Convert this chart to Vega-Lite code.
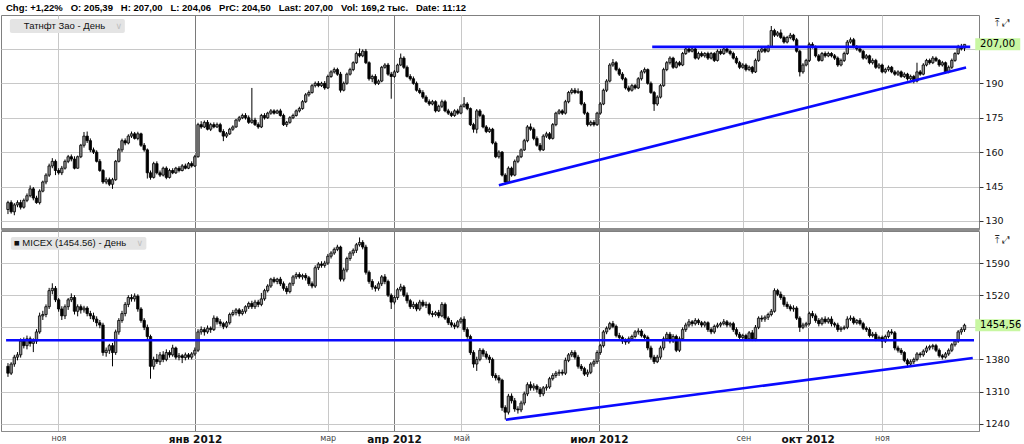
{
 "$schema": "https://vega.github.io/schema/vega-lite/v6.json",
 "padding": {"top": 2, "left": 0, "right": 0, "bottom": 0},
 "background": "white",
 "spacing": 0,
 "config": {
  "view": {"stroke": "#808080", "strokeWidth": 1},
  "font": "DejaVu Sans",
  "axis": {"labelFont": "DejaVu Sans", "gridOpacity": 1}
 },
 "datasets": {
  "tags": [
   {"panel": "top", "name": "Татнфт Зао - День", "last": 207.0, "lastText": "207,00", "chev": "∨", "icons": "⤒ ⤢"},
   {"panel": "bottom", "name": "■ MICEX (1454.56) - День", "last": 1454.56, "lastText": "1454,56", "chev": "∨", "icons": "⤒ ⤢"}
  ],
  "trend": [
   {"panel": "top", "t1": 155, "p1": 145.6, "t2": 302.5, "p2": 196.9},
   {"panel": "top", "t1": 203.4, "p1": 205.9, "t2": 303.8, "p2": 205.9},
   {"panel": "bottom", "t1": -0.6, "p1": 1421.9, "t2": 305, "p2": 1421.9},
   {"panel": "bottom", "t1": 157.2, "p1": 1248.7, "t2": 304.6, "p2": 1383.2}
  ],
  "d": [
{"t":0,"o":135,"h":138.8,"l":133,"c":138,"mo":1365,"mh":1372,"ml":1342,"mc":1350},
{"t":1,"o":138,"h":139,"l":133.2,"c":134,"mo":1350,"mh":1374,"ml":1346,"mc":1370},
{"t":2,"o":134,"h":137.8,"l":132.5,"c":137,"mo":1370,"mh":1390,"ml":1364,"mc":1385},
{"t":3,"o":137,"h":139,"l":136,"c":138,"mo":1385,"mh":1396,"ml":1378,"mc":1390},
{"t":4,"o":138,"h":139.2,"l":135,"c":136,"mo":1390,"mh":1426,"ml":1384,"mc":1420},
{"t":5,"o":136,"h":139.8,"l":135.4,"c":139,"mo":1420,"mh":1428,"ml":1404,"mc":1410},
{"t":6,"o":139,"h":142,"l":138.2,"c":141,"mo":1410,"mh":1432,"ml":1402,"mc":1425},
{"t":7,"o":141,"h":145.5,"l":140.3,"c":144,"mo":1425,"mh":1430,"ml":1408,"mc":1415},
{"t":8,"o":144,"h":144.8,"l":139,"c":140,"mo":1415,"mh":1426,"ml":1396,"mc":1420},
{"t":9,"o":140,"h":141,"l":137.5,"c":138,"mo":1420,"mh":1446,"ml":1414,"mc":1440},
{"t":10,"o":138,"h":143.8,"l":137.2,"c":143,"mo":1440,"mh":1482,"ml":1436,"mc":1475},
{"t":11,"o":143,"h":147.6,"l":142.5,"c":147,"mo":1475,"mh":1486,"ml":1466,"mc":1478},
{"t":12,"o":147,"h":150.8,"l":146,"c":150,"mo":1478,"mh":1500,"ml":1472,"mc":1495},
{"t":13,"o":150,"h":155,"l":149.2,"c":154,"mo":1495,"mh":1536,"ml":1490,"mc":1530},
{"t":14,"o":154,"h":157.4,"l":153,"c":156,"mo":1530,"mh":1546,"ml":1522,"mc":1535},
{"t":15,"o":156,"h":156.8,"l":150,"c":152,"mo":1535,"mh":1540,"ml":1505,"mc":1510},
{"t":16,"o":152,"h":153,"l":150.2,"c":151,"mo":1510,"mh":1514,"ml":1484,"mc":1490},
{"t":17,"o":151,"h":154,"l":150,"c":153,"mo":1490,"mh":1496,"ml":1466,"mc":1475},
{"t":18,"o":153,"h":156.8,"l":152.4,"c":156,"mo":1475,"mh":1500,"ml":1468,"mc":1495},
{"t":19,"o":156,"h":158.8,"l":155.2,"c":158,"mo":1495,"mh":1514,"ml":1488,"mc":1510},
{"t":20,"o":158,"h":159,"l":156,"c":157,"mo":1510,"mh":1524,"ml":1505,"mc":1515},
{"t":21,"o":157,"h":158.2,"l":152.5,"c":153,"mo":1515,"mh":1520,"ml":1478,"mc":1485},
{"t":22,"o":153,"h":158.5,"l":152.8,"c":158,"mo":1485,"mh":1500,"ml":1474,"mc":1495},
{"t":23,"o":158,"h":163.6,"l":157.4,"c":163,"mo":1495,"mh":1500,"ml":1480,"mc":1488},
{"t":24,"o":163,"h":168.8,"l":162,"c":167,"mo":1488,"mh":1497,"ml":1482,"mc":1492},
{"t":25,"o":167,"h":169,"l":164,"c":165,"mo":1492,"mh":1496,"ml":1474,"mc":1480},
{"t":26,"o":165,"h":166,"l":160,"c":161,"mo":1480,"mh":1486,"ml":1468,"mc":1475},
{"t":27,"o":161,"h":162,"l":159.2,"c":160,"mo":1475,"mh":1482,"ml":1462,"mc":1468},
{"t":28,"o":160,"h":160.8,"l":155.5,"c":156,"mo":1468,"mh":1474,"ml":1452,"mc":1460},
{"t":29,"o":156,"h":157,"l":151.4,"c":152,"mo":1460,"mh":1466,"ml":1448,"mc":1455},
{"t":30,"o":152,"h":152.6,"l":146.2,"c":147,"mo":1455,"mh":1460,"ml":1388,"mc":1395},
{"t":31,"o":147,"h":149,"l":146,"c":148,"mo":1395,"mh":1406,"ml":1386,"mc":1400},
{"t":32,"o":148,"h":148.9,"l":145.2,"c":146,"mo":1400,"mh":1414,"ml":1392,"mc":1410},
{"t":33,"o":146,"h":148.8,"l":144,"c":148,"mo":1410,"mh":1416,"ml":1365,"mc":1395},
{"t":34,"o":148,"h":156.6,"l":147.5,"c":156,"mo":1395,"mh":1445,"ml":1390,"mc":1440},
{"t":35,"o":156,"h":161.8,"l":155.5,"c":161,"mo":1440,"mh":1470,"ml":1434,"mc":1465},
{"t":36,"o":161,"h":165.9,"l":160,"c":165,"mo":1465,"mh":1486,"ml":1460,"mc":1480},
{"t":37,"o":165,"h":166,"l":163,"c":164,"mo":1480,"mh":1505,"ml":1474,"mc":1500},
{"t":38,"o":164,"h":167.8,"l":163.4,"c":167,"mo":1500,"mh":1520,"ml":1494,"mc":1515},
{"t":39,"o":167,"h":169,"l":166.2,"c":168,"mo":1515,"mh":1522,"ml":1506,"mc":1512},
{"t":40,"o":168,"h":168.8,"l":165.5,"c":166,"mo":1512,"mh":1524,"ml":1506,"mc":1518},
{"t":41,"o":166,"h":168.9,"l":165.2,"c":168,"mo":1518,"mh":1522,"ml":1484,"mc":1490},
{"t":42,"o":168,"h":168.5,"l":162.3,"c":163,"mo":1490,"mh":1494,"ml":1460,"mc":1465},
{"t":43,"o":163,"h":164,"l":160.2,"c":161,"mo":1465,"mh":1470,"ml":1444,"mc":1450},
{"t":44,"o":161,"h":161.6,"l":148.5,"c":151,"mo":1450,"mh":1456,"ml":1424,"mc":1430},
{"t":45,"o":151,"h":152,"l":148,"c":149,"mo":1430,"mh":1434,"ml":1338,"mc":1365},
{"t":46,"o":149,"h":155.8,"l":148.5,"c":155,"mo":1365,"mh":1386,"ml":1358,"mc":1380},
{"t":47,"o":155,"h":156,"l":150.3,"c":151,"mo":1380,"mh":1392,"ml":1370,"mc":1375},
{"t":48,"o":151,"h":152,"l":149.2,"c":150,"mo":1375,"mh":1396,"ml":1368,"mc":1390},
{"t":49,"o":150,"h":153.7,"l":149.4,"c":153,"mo":1390,"mh":1398,"ml":1374,"mc":1380},
{"t":50,"o":153,"h":153.8,"l":148.2,"c":149,"mo":1380,"mh":1402,"ml":1376,"mc":1395},
{"t":51,"o":149,"h":152.8,"l":148.5,"c":152,"mo":1395,"mh":1400,"ml":1384,"mc":1390},
{"t":52,"o":152,"h":153,"l":150.4,"c":151,"mo":1390,"mh":1412,"ml":1386,"mc":1405},
{"t":53,"o":151,"h":153.6,"l":150.5,"c":153,"mo":1405,"mh":1408,"ml":1380,"mc":1385},
{"t":54,"o":153,"h":153.9,"l":151.2,"c":152,"mo":1385,"mh":1394,"ml":1378,"mc":1388},
{"t":55,"o":152,"h":154.8,"l":151.6,"c":154,"mo":1388,"mh":1392,"ml":1372,"mc":1384},
{"t":56,"o":154,"h":155,"l":152.5,"c":153,"mo":1384,"mh":1395,"ml":1378,"mc":1390},
{"t":57,"o":153,"h":155.7,"l":152.6,"c":155,"mo":1390,"mh":1394,"ml":1380,"mc":1385},
{"t":58,"o":155,"h":156,"l":153.3,"c":154,"mo":1385,"mh":1396,"ml":1380,"mc":1392},
{"t":59,"o":154,"h":158.8,"l":153.5,"c":158,"mo":1392,"mh":1406,"ml":1388,"mc":1400},
{"t":60,"o":158,"h":172.8,"l":157.6,"c":172,"mo":1400,"mh":1446,"ml":1396,"mc":1440},
{"t":61,"o":172,"h":173.5,"l":170.2,"c":171,"mo":1440,"mh":1452,"ml":1434,"mc":1445},
{"t":62,"o":171,"h":173.8,"l":170.5,"c":173,"mo":1445,"mh":1450,"ml":1432,"mc":1440},
{"t":63,"o":173,"h":174,"l":169.5,"c":170,"mo":1440,"mh":1454,"ml":1436,"mc":1448},
{"t":64,"o":170,"h":172.8,"l":169.2,"c":172,"mo":1448,"mh":1452,"ml":1438,"mc":1445},
{"t":65,"o":172,"h":173,"l":170.4,"c":171,"mo":1445,"mh":1476,"ml":1442,"mc":1470},
{"t":66,"o":171,"h":172.9,"l":170.5,"c":172,"mo":1470,"mh":1474,"ml":1456,"mc":1462},
{"t":67,"o":172,"h":172.8,"l":168.5,"c":169,"mo":1462,"mh":1468,"ml":1452,"mc":1458},
{"t":68,"o":169,"h":170,"l":164.8,"c":167,"mo":1458,"mh":1462,"ml":1446,"mc":1452},
{"t":69,"o":167,"h":168.8,"l":166.2,"c":168,"mo":1452,"mh":1464,"ml":1448,"mc":1460},
{"t":70,"o":168,"h":170.6,"l":167.5,"c":170,"mo":1460,"mh":1482,"ml":1456,"mc":1478},
{"t":71,"o":170,"h":171.7,"l":169.3,"c":171,"mo":1478,"mh":1488,"ml":1474,"mc":1482},
{"t":72,"o":171,"h":174.5,"l":170.6,"c":174,"mo":1482,"mh":1492,"ml":1476,"mc":1488},
{"t":73,"o":174,"h":175.8,"l":173.2,"c":175,"mo":1488,"mh":1492,"ml":1474,"mc":1480},
{"t":74,"o":175,"h":176.8,"l":174.4,"c":176,"mo":1480,"mh":1490,"ml":1476,"mc":1485},
{"t":75,"o":176,"h":177,"l":174.2,"c":175,"mo":1485,"mh":1498,"ml":1480,"mc":1495},
{"t":76,"o":175,"h":176,"l":172.3,"c":173,"mo":1495,"mh":1506,"ml":1490,"mc":1502},
{"t":77,"o":173,"h":188,"l":172.4,"c":174,"mo":1502,"mh":1508,"ml":1490,"mc":1495},
{"t":78,"o":174,"h":175,"l":171.4,"c":172,"mo":1495,"mh":1510,"ml":1490,"mc":1505},
{"t":79,"o":172,"h":173,"l":170.2,"c":171,"mo":1505,"mh":1510,"ml":1494,"mc":1500},
{"t":80,"o":171,"h":176.7,"l":170.5,"c":176,"mo":1500,"mh":1525,"ml":1496,"mc":1512},
{"t":81,"o":176,"h":177,"l":174.2,"c":175,"mo":1512,"mh":1534,"ml":1508,"mc":1530},
{"t":82,"o":175,"h":177.6,"l":174.5,"c":177,"mo":1530,"mh":1544,"ml":1526,"mc":1540},
{"t":83,"o":177,"h":178.8,"l":176.3,"c":178,"mo":1540,"mh":1558,"ml":1536,"mc":1555},
{"t":84,"o":178,"h":178.7,"l":176.4,"c":177,"mo":1555,"mh":1560,"ml":1546,"mc":1550},
{"t":85,"o":177,"h":178.6,"l":176.8,"c":178,"mo":1550,"mh":1558,"ml":1544,"mc":1555},
{"t":86,"o":178,"h":178.9,"l":175.5,"c":176,"mo":1555,"mh":1560,"ml":1540,"mc":1545},
{"t":87,"o":176,"h":176.8,"l":171.4,"c":172,"mo":1545,"mh":1550,"ml":1530,"mc":1535},
{"t":88,"o":172,"h":173.6,"l":171,"c":173,"mo":1535,"mh":1540,"ml":1522,"mc":1528},
{"t":89,"o":173,"h":175.7,"l":172.4,"c":175,"mo":1528,"mh":1548,"ml":1524,"mc":1545},
{"t":90,"o":175,"h":176.8,"l":174.4,"c":176,"mo":1545,"mh":1564,"ml":1540,"mc":1560},
{"t":91,"o":176,"h":178.6,"l":175.5,"c":178,"mo":1560,"mh":1570,"ml":1555,"mc":1565},
{"t":92,"o":178,"h":179.8,"l":177.3,"c":179,"mo":1565,"mh":1570,"ml":1556,"mc":1560},
{"t":93,"o":179,"h":182.7,"l":178.5,"c":182,"mo":1560,"mh":1567,"ml":1554,"mc":1563},
{"t":94,"o":182,"h":185.8,"l":181.4,"c":185,"mo":1563,"mh":1568,"ml":1552,"mc":1558},
{"t":95,"o":185,"h":186.9,"l":184.2,"c":186,"mo":1558,"mh":1562,"ml":1540,"mc":1545},
{"t":96,"o":186,"h":189.7,"l":185.5,"c":189,"mo":1545,"mh":1550,"ml":1535,"mc":1540},
{"t":97,"o":189,"h":190.8,"l":188.2,"c":190,"mo":1540,"mh":1585,"ml":1536,"mc":1580},
{"t":98,"o":190,"h":191,"l":188.3,"c":189,"mo":1580,"mh":1592,"ml":1575,"mc":1588},
{"t":99,"o":189,"h":190.7,"l":188.4,"c":190,"mo":1588,"mh":1594,"ml":1580,"mc":1585},
{"t":100,"o":190,"h":191,"l":187.2,"c":188,"mo":1585,"mh":1595,"ml":1580,"mc":1590},
{"t":101,"o":188,"h":193.8,"l":187.5,"c":193,"mo":1590,"mh":1610,"ml":1586,"mc":1605},
{"t":102,"o":193,"h":195.7,"l":192.4,"c":195,"mo":1605,"mh":1616,"ml":1600,"mc":1612},
{"t":103,"o":195,"h":196.9,"l":194.3,"c":196,"mo":1612,"mh":1624,"ml":1608,"mc":1620},
{"t":104,"o":196,"h":196.8,"l":193.3,"c":194,"mo":1620,"mh":1630,"ml":1616,"mc":1625},
{"t":105,"o":194,"h":195,"l":186,"c":187,"mo":1625,"mh":1628,"ml":1550,"mc":1555},
{"t":106,"o":187,"h":190.8,"l":186.5,"c":190,"mo":1555,"mh":1580,"ml":1550,"mc":1575},
{"t":107,"o":190,"h":194.7,"l":189.4,"c":194,"mo":1575,"mh":1604,"ml":1570,"mc":1600},
{"t":108,"o":194,"h":196.8,"l":193.4,"c":196,"mo":1600,"mh":1616,"ml":1595,"mc":1612},
{"t":109,"o":196,"h":199.6,"l":195.3,"c":199,"mo":1612,"mh":1622,"ml":1606,"mc":1618},
{"t":110,"o":199,"h":203.8,"l":198.5,"c":203,"mo":1618,"mh":1634,"ml":1612,"mc":1630},
{"t":111,"o":203,"h":205.2,"l":201.3,"c":202,"mo":1630,"mh":1646,"ml":1626,"mc":1635},
{"t":112,"o":202,"h":204.8,"l":201.4,"c":204,"mo":1635,"mh":1640,"ml":1620,"mc":1625},
{"t":113,"o":204,"h":205,"l":198.4,"c":199,"mo":1625,"mh":1630,"ml":1565,"mc":1570},
{"t":114,"o":199,"h":199.6,"l":191.2,"c":192,"mo":1570,"mh":1574,"ml":1545,"mc":1550},
{"t":115,"o":192,"h":193.8,"l":190.5,"c":193,"mo":1550,"mh":1555,"ml":1532,"mc":1538},
{"t":116,"o":193,"h":194,"l":189.2,"c":190,"mo":1538,"mh":1542,"ml":1528,"mc":1535},
{"t":117,"o":190,"h":191.7,"l":189.3,"c":191,"mo":1535,"mh":1550,"ml":1530,"mc":1545},
{"t":118,"o":191,"h":197.6,"l":190.5,"c":197,"mo":1545,"mh":1564,"ml":1540,"mc":1560},
{"t":119,"o":197,"h":198.8,"l":196.4,"c":198,"mo":1560,"mh":1566,"ml":1544,"mc":1550},
{"t":120,"o":198,"h":198.9,"l":193.3,"c":194,"mo":1550,"mh":1554,"ml":1516,"mc":1520},
{"t":121,"o":194,"h":195,"l":183.3,"c":193,"mo":1520,"mh":1524,"ml":1490,"mc":1505},
{"t":122,"o":193,"h":195.8,"l":192.4,"c":195,"mo":1505,"mh":1520,"ml":1500,"mc":1515},
{"t":123,"o":195,"h":198.6,"l":194.5,"c":198,"mo":1515,"mh":1536,"ml":1510,"mc":1532},
{"t":124,"o":198,"h":203,"l":197.5,"c":201,"mo":1532,"mh":1545,"ml":1528,"mc":1538},
{"t":125,"o":201,"h":201.8,"l":196.3,"c":197,"mo":1538,"mh":1542,"ml":1516,"mc":1520},
{"t":126,"o":197,"h":197.8,"l":192.5,"c":193,"mo":1520,"mh":1526,"ml":1502,"mc":1508},
{"t":127,"o":193,"h":194,"l":191.2,"c":192,"mo":1508,"mh":1512,"ml":1490,"mc":1495},
{"t":128,"o":192,"h":193,"l":189.4,"c":190,"mo":1495,"mh":1506,"ml":1490,"mc":1500},
{"t":129,"o":190,"h":190.8,"l":186.4,"c":187,"mo":1500,"mh":1504,"ml":1485,"mc":1490},
{"t":130,"o":187,"h":188,"l":185.3,"c":186,"mo":1490,"mh":1510,"ml":1486,"mc":1505},
{"t":131,"o":186,"h":187,"l":183.2,"c":184,"mo":1505,"mh":1510,"ml":1494,"mc":1498},
{"t":132,"o":184,"h":184.8,"l":181.5,"c":182,"mo":1498,"mh":1506,"ml":1492,"mc":1500},
{"t":133,"o":182,"h":183,"l":180.2,"c":181,"mo":1500,"mh":1504,"ml":1476,"mc":1480},
{"t":134,"o":181,"h":182.8,"l":180.4,"c":182,"mo":1480,"mh":1486,"ml":1472,"mc":1478},
{"t":135,"o":182,"h":182.6,"l":177.3,"c":178,"mo":1478,"mh":1486,"ml":1474,"mc":1482},
{"t":136,"o":178,"h":180.7,"l":177.5,"c":180,"mo":1482,"mh":1488,"ml":1470,"mc":1475},
{"t":137,"o":180,"h":182.9,"l":179.2,"c":182,"mo":1475,"mh":1505,"ml":1472,"mc":1500},
{"t":138,"o":182,"h":182.8,"l":177.4,"c":178,"mo":1500,"mh":1504,"ml":1466,"mc":1470},
{"t":139,"o":178,"h":178.9,"l":176.2,"c":177,"mo":1470,"mh":1474,"ml":1455,"mc":1460},
{"t":140,"o":177,"h":177.8,"l":175.3,"c":176,"mo":1460,"mh":1466,"ml":1450,"mc":1455},
{"t":141,"o":176,"h":178.7,"l":175.4,"c":178,"mo":1455,"mh":1460,"ml":1446,"mc":1452},
{"t":142,"o":178,"h":178.9,"l":176.3,"c":177,"mo":1452,"mh":1466,"ml":1448,"mc":1462},
{"t":143,"o":177,"h":180.8,"l":176.5,"c":180,"mo":1462,"mh":1472,"ml":1458,"mc":1468},
{"t":144,"o":180,"h":184,"l":179.4,"c":181,"mo":1468,"mh":1474,"ml":1440,"mc":1445},
{"t":145,"o":181,"h":181.8,"l":178.3,"c":179,"mo":1445,"mh":1450,"ml":1425,"mc":1430},
{"t":146,"o":179,"h":179.5,"l":171.4,"c":172,"mo":1430,"mh":1434,"ml":1390,"mc":1395},
{"t":147,"o":172,"h":172.8,"l":168.5,"c":170,"mo":1395,"mh":1400,"ml":1362,"mc":1370},
{"t":148,"o":170,"h":178.8,"l":168.2,"c":178,"mo":1370,"mh":1386,"ml":1355,"mc":1380},
{"t":149,"o":178,"h":178.8,"l":175.2,"c":176,"mo":1380,"mh":1405,"ml":1376,"mc":1400},
{"t":150,"o":176,"h":176.7,"l":170.4,"c":171,"mo":1400,"mh":1404,"ml":1386,"mc":1392},
{"t":151,"o":171,"h":171.8,"l":168.3,"c":169,"mo":1392,"mh":1398,"ml":1380,"mc":1385},
{"t":152,"o":169,"h":170.8,"l":168.4,"c":170,"mo":1385,"mh":1390,"ml":1372,"mc":1380},
{"t":153,"o":170,"h":170.6,"l":163.4,"c":164,"mo":1380,"mh":1384,"ml":1340,"mc":1345},
{"t":154,"o":164,"h":164.7,"l":157.4,"c":158,"mo":1345,"mh":1350,"ml":1334,"mc":1340},
{"t":155,"o":158,"h":160.8,"l":157.2,"c":160,"mo":1340,"mh":1346,"ml":1328,"mc":1335},
{"t":156,"o":160,"h":160.5,"l":149.4,"c":150,"mo":1335,"mh":1338,"ml":1268,"mc":1275},
{"t":157,"o":150,"h":150.8,"l":145.8,"c":147,"mo":1275,"mh":1280,"ml":1249,"mc":1265},
{"t":158,"o":147,"h":153.8,"l":146.5,"c":153,"mo":1265,"mh":1305,"ml":1260,"mc":1300},
{"t":159,"o":153,"h":153.7,"l":149.3,"c":150,"mo":1300,"mh":1306,"ml":1284,"mc":1290},
{"t":160,"o":150,"h":156.8,"l":149.5,"c":156,"mo":1290,"mh":1296,"ml":1266,"mc":1272},
{"t":161,"o":156,"h":158.7,"l":155.2,"c":158,"mo":1272,"mh":1278,"ml":1262,"mc":1270},
{"t":162,"o":158,"h":161.6,"l":157.4,"c":161,"mo":1270,"mh":1290,"ml":1265,"mc":1285},
{"t":163,"o":161,"h":165.8,"l":160.5,"c":165,"mo":1285,"mh":1310,"ml":1280,"mc":1305},
{"t":164,"o":165,"h":171.8,"l":164.3,"c":171,"mo":1305,"mh":1330,"ml":1300,"mc":1325},
{"t":165,"o":171,"h":172.5,"l":169.3,"c":170,"mo":1325,"mh":1332,"ml":1312,"mc":1318},
{"t":166,"o":170,"h":170.8,"l":165.2,"c":166,"mo":1318,"mh":1328,"ml":1312,"mc":1322},
{"t":167,"o":166,"h":166.9,"l":162.4,"c":163,"mo":1322,"mh":1326,"ml":1308,"mc":1315},
{"t":168,"o":163,"h":164,"l":160.3,"c":161,"mo":1315,"mh":1320,"ml":1298,"mc":1305},
{"t":169,"o":161,"h":167.8,"l":160.5,"c":167,"mo":1305,"mh":1322,"ml":1300,"mc":1318},
{"t":170,"o":167,"h":168.9,"l":166.2,"c":168,"mo":1318,"mh":1326,"ml":1312,"mc":1320},
{"t":171,"o":168,"h":168.8,"l":165.4,"c":166,"mo":1320,"mh":1342,"ml":1316,"mc":1338},
{"t":172,"o":166,"h":172.7,"l":165.5,"c":172,"mo":1338,"mh":1350,"ml":1334,"mc":1345},
{"t":173,"o":172,"h":177.6,"l":171.3,"c":177,"mo":1345,"mh":1355,"ml":1340,"mc":1350},
{"t":174,"o":177,"h":178.8,"l":176.4,"c":178,"mo":1350,"mh":1358,"ml":1344,"mc":1352},
{"t":175,"o":178,"h":178.7,"l":176.2,"c":177,"mo":1352,"mh":1358,"ml":1345,"mc":1350},
{"t":176,"o":177,"h":182.8,"l":176.4,"c":182,"mo":1350,"mh":1384,"ml":1346,"mc":1378},
{"t":177,"o":182,"h":186.7,"l":181.3,"c":186,"mo":1378,"mh":1394,"ml":1374,"mc":1390},
{"t":178,"o":186,"h":187.9,"l":185.2,"c":187,"mo":1390,"mh":1400,"ml":1385,"mc":1395},
{"t":179,"o":187,"h":188,"l":185.3,"c":186,"mo":1395,"mh":1400,"ml":1380,"mc":1385},
{"t":180,"o":186,"h":187.8,"l":185.4,"c":186.5,"mo":1385,"mh":1390,"ml":1360,"mc":1365},
{"t":181,"o":186.5,"h":187,"l":180.4,"c":181,"mo":1365,"mh":1370,"ml":1355,"mc":1360},
{"t":182,"o":181,"h":181.8,"l":176.3,"c":177,"mo":1360,"mh":1364,"ml":1344,"mc":1348},
{"t":183,"o":177,"h":177.6,"l":171.2,"c":172,"mo":1348,"mh":1358,"ml":1342,"mc":1352},
{"t":184,"o":172,"h":173.8,"l":171.3,"c":173,"mo":1352,"mh":1374,"ml":1348,"mc":1370},
{"t":185,"o":173,"h":174,"l":171.2,"c":172,"mo":1370,"mh":1380,"ml":1364,"mc":1375},
{"t":186,"o":172,"h":177.6,"l":171.4,"c":177,"mo":1375,"mh":1400,"ml":1370,"mc":1395},
{"t":187,"o":177,"h":181.8,"l":176.3,"c":181,"mo":1395,"mh":1414,"ml":1390,"mc":1410},
{"t":188,"o":181,"h":187.7,"l":180.5,"c":187,"mo":1410,"mh":1444,"ml":1406,"mc":1440},
{"t":189,"o":187,"h":191.8,"l":186.2,"c":191,"mo":1440,"mh":1452,"ml":1435,"mc":1448},
{"t":190,"o":191,"h":198.8,"l":190.4,"c":198,"mo":1448,"mh":1462,"ml":1444,"mc":1458},
{"t":191,"o":198,"h":200.6,"l":197.2,"c":199,"mo":1458,"mh":1464,"ml":1448,"mc":1452},
{"t":192,"o":199,"h":199.7,"l":195.3,"c":196,"mo":1452,"mh":1456,"ml":1428,"mc":1432},
{"t":193,"o":196,"h":196.8,"l":193.2,"c":194,"mo":1432,"mh":1438,"ml":1422,"mc":1428},
{"t":194,"o":194,"h":194.9,"l":191.3,"c":192,"mo":1428,"mh":1432,"ml":1414,"mc":1420},
{"t":195,"o":192,"h":192.7,"l":187.3,"c":188,"mo":1420,"mh":1426,"ml":1412,"mc":1418},
{"t":196,"o":188,"h":189,"l":186.2,"c":187,"mo":1418,"mh":1430,"ml":1414,"mc":1425},
{"t":197,"o":187,"h":189.8,"l":186.4,"c":189,"mo":1425,"mh":1434,"ml":1420,"mc":1430},
{"t":198,"o":189,"h":189.7,"l":187.3,"c":188,"mo":1430,"mh":1444,"ml":1426,"mc":1440},
{"t":199,"o":188,"h":192.7,"l":187.5,"c":192,"mo":1440,"mh":1448,"ml":1434,"mc":1442},
{"t":200,"o":192,"h":195.8,"l":191.2,"c":195,"mo":1442,"mh":1446,"ml":1428,"mc":1432},
{"t":201,"o":195,"h":196.9,"l":194.3,"c":196,"mo":1432,"mh":1436,"ml":1422,"mc":1428},
{"t":202,"o":196,"h":196.5,"l":189.4,"c":190,"mo":1428,"mh":1432,"ml":1400,"mc":1405},
{"t":203,"o":190,"h":190.8,"l":185.4,"c":186,"mo":1405,"mh":1410,"ml":1380,"mc":1385},
{"t":204,"o":186,"h":186.7,"l":178,"c":181,"mo":1385,"mh":1390,"ml":1370,"mc":1375},
{"t":205,"o":181,"h":184.8,"l":180.2,"c":184,"mo":1375,"mh":1390,"ml":1372,"mc":1385},
{"t":206,"o":184,"h":189.7,"l":183.4,"c":189,"mo":1385,"mh":1410,"ml":1380,"mc":1405},
{"t":207,"o":189,"h":196.8,"l":188.5,"c":196,"mo":1405,"mh":1430,"ml":1400,"mc":1425},
{"t":208,"o":196,"h":199.7,"l":195.3,"c":199,"mo":1425,"mh":1440,"ml":1420,"mc":1435},
{"t":209,"o":199,"h":201.8,"l":198.2,"c":201,"mo":1435,"mh":1440,"ml":1415,"mc":1420},
{"t":210,"o":201,"h":201.6,"l":196.3,"c":197,"mo":1420,"mh":1435,"ml":1416,"mc":1430},
{"t":211,"o":197,"h":199.8,"l":196.5,"c":199,"mo":1430,"mh":1434,"ml":1396,"mc":1400},
{"t":212,"o":199,"h":199.8,"l":197.4,"c":198,"mo":1400,"mh":1430,"ml":1396,"mc":1425},
{"t":213,"o":198,"h":203.7,"l":197.5,"c":203,"mo":1425,"mh":1450,"ml":1420,"mc":1445},
{"t":214,"o":203,"h":205.9,"l":202.4,"c":205,"mo":1445,"mh":1460,"ml":1440,"mc":1455},
{"t":215,"o":205,"h":205.8,"l":203.3,"c":204,"mo":1455,"mh":1468,"ml":1450,"mc":1462},
{"t":216,"o":204,"h":205.7,"l":203.5,"c":205,"mo":1462,"mh":1466,"ml":1452,"mc":1458},
{"t":217,"o":205,"h":205.6,"l":200.4,"c":201,"mo":1458,"mh":1470,"ml":1454,"mc":1465},
{"t":218,"o":201,"h":203.8,"l":200.3,"c":203,"mo":1465,"mh":1469,"ml":1455,"mc":1460},
{"t":219,"o":203,"h":203.9,"l":201.4,"c":202,"mo":1460,"mh":1464,"ml":1450,"mc":1455},
{"t":220,"o":202,"h":203.6,"l":201.2,"c":203,"mo":1455,"mh":1464,"ml":1450,"mc":1460},
{"t":221,"o":203,"h":203.8,"l":200.2,"c":201,"mo":1460,"mh":1463,"ml":1440,"mc":1445},
{"t":222,"o":201,"h":203.7,"l":200.4,"c":203,"mo":1445,"mh":1450,"ml":1435,"mc":1440},
{"t":223,"o":203,"h":203.6,"l":199.3,"c":200,"mo":1440,"mh":1456,"ml":1436,"mc":1452},
{"t":224,"o":200,"h":204.8,"l":199.5,"c":204,"mo":1452,"mh":1460,"ml":1448,"mc":1455},
{"t":225,"o":204,"h":204.9,"l":202.3,"c":203,"mo":1455,"mh":1462,"ml":1450,"mc":1458},
{"t":226,"o":203,"h":206,"l":202.4,"c":205,"mo":1458,"mh":1468,"ml":1454,"mc":1462},
{"t":227,"o":205,"h":205.8,"l":203.2,"c":204,"mo":1462,"mh":1466,"ml":1450,"mc":1455},
{"t":228,"o":204,"h":204.7,"l":202.2,"c":203,"mo":1455,"mh":1462,"ml":1450,"mc":1458},
{"t":229,"o":203,"h":203.8,"l":200.4,"c":201,"mo":1458,"mh":1462,"ml":1440,"mc":1445},
{"t":230,"o":201,"h":201.9,"l":198.3,"c":199,"mo":1445,"mh":1450,"ml":1430,"mc":1435},
{"t":231,"o":199,"h":199.8,"l":196.2,"c":197,"mo":1435,"mh":1440,"ml":1424,"mc":1428},
{"t":232,"o":197,"h":198.8,"l":196.4,"c":198,"mo":1428,"mh":1436,"ml":1424,"mc":1432},
{"t":233,"o":198,"h":198.7,"l":195.2,"c":196,"mo":1432,"mh":1436,"ml":1420,"mc":1425},
{"t":234,"o":196,"h":197.8,"l":195.3,"c":197,"mo":1425,"mh":1442,"ml":1420,"mc":1438},
{"t":235,"o":197,"h":197.6,"l":194.2,"c":195,"mo":1438,"mh":1444,"ml":1420,"mc":1425},
{"t":236,"o":195,"h":200.8,"l":194.5,"c":200,"mo":1425,"mh":1455,"ml":1420,"mc":1450},
{"t":237,"o":200,"h":204.7,"l":199.4,"c":204,"mo":1450,"mh":1474,"ml":1446,"mc":1470},
{"t":238,"o":204,"h":205.8,"l":203.3,"c":205,"mo":1470,"mh":1476,"ml":1462,"mc":1468},
{"t":239,"o":205,"h":205.6,"l":203.2,"c":204,"mo":1468,"mh":1476,"ml":1462,"mc":1472},
{"t":240,"o":204,"h":206.8,"l":203.5,"c":206,"mo":1472,"mh":1482,"ml":1466,"mc":1478},
{"t":241,"o":206,"h":215,"l":205.4,"c":213,"mo":1478,"mh":1490,"ml":1474,"mc":1485},
{"t":242,"o":213,"h":213.8,"l":210.2,"c":211,"mo":1485,"mh":1535,"ml":1482,"mc":1530},
{"t":243,"o":211,"h":212.8,"l":210.3,"c":212,"mo":1530,"mh":1534,"ml":1518,"mc":1522},
{"t":244,"o":212,"h":213.5,"l":209.3,"c":210,"mo":1522,"mh":1528,"ml":1510,"mc":1515},
{"t":245,"o":210,"h":210.8,"l":207.3,"c":208,"mo":1515,"mh":1520,"ml":1495,"mc":1500},
{"t":246,"o":208,"h":210.7,"l":207.4,"c":210,"mo":1500,"mh":1506,"ml":1490,"mc":1495},
{"t":247,"o":210,"h":212,"l":209.2,"c":211,"mo":1495,"mh":1500,"ml":1485,"mc":1490},
{"t":248,"o":211,"h":211.6,"l":208.3,"c":209,"mo":1490,"mh":1498,"ml":1484,"mc":1492},
{"t":249,"o":209,"h":209.8,"l":203.4,"c":204,"mo":1492,"mh":1496,"ml":1466,"mc":1470},
{"t":250,"o":204,"h":204.6,"l":193,"c":195,"mo":1470,"mh":1474,"ml":1440,"mc":1450},
{"t":251,"o":195,"h":198.8,"l":194.2,"c":198,"mo":1450,"mh":1460,"ml":1446,"mc":1455},
{"t":252,"o":198,"h":200.7,"l":197.4,"c":200,"mo":1455,"mh":1462,"ml":1450,"mc":1458},
{"t":253,"o":200,"h":207.8,"l":199.3,"c":207,"mo":1458,"mh":1484,"ml":1454,"mc":1480},
{"t":254,"o":207,"h":207.9,"l":205.2,"c":206,"mo":1480,"mh":1486,"ml":1470,"mc":1475},
{"t":255,"o":206,"h":206.5,"l":201.3,"c":202,"mo":1475,"mh":1480,"ml":1460,"mc":1465},
{"t":256,"o":202,"h":202.8,"l":199.4,"c":200,"mo":1465,"mh":1470,"ml":1452,"mc":1458},
{"t":257,"o":200,"h":203.7,"l":199.5,"c":203,"mo":1458,"mh":1472,"ml":1454,"mc":1468},
{"t":258,"o":203,"h":203.9,"l":201.2,"c":202,"mo":1468,"mh":1474,"ml":1458,"mc":1462},
{"t":259,"o":202,"h":203.8,"l":201.4,"c":203,"mo":1462,"mh":1472,"ml":1458,"mc":1468},
{"t":260,"o":203,"h":203.6,"l":201.3,"c":202,"mo":1468,"mh":1474,"ml":1452,"mc":1458},
{"t":261,"o":202,"h":202.8,"l":200.2,"c":201,"mo":1458,"mh":1462,"ml":1450,"mc":1455},
{"t":262,"o":201,"h":201.7,"l":197.2,"c":198,"mo":1455,"mh":1460,"ml":1440,"mc":1445},
{"t":263,"o":198,"h":200.8,"l":197.4,"c":200,"mo":1445,"mh":1452,"ml":1440,"mc":1448},
{"t":264,"o":200,"h":203.8,"l":199.3,"c":203,"mo":1448,"mh":1454,"ml":1444,"mc":1450},
{"t":265,"o":203,"h":208.9,"l":202.4,"c":208,"mo":1450,"mh":1474,"ml":1446,"mc":1468},
{"t":266,"o":208,"h":210,"l":207.3,"c":209,"mo":1468,"mh":1476,"ml":1464,"mc":1470},
{"t":267,"o":209,"h":209.8,"l":205.3,"c":206,"mo":1470,"mh":1474,"ml":1456,"mc":1460},
{"t":268,"o":206,"h":206.7,"l":204.2,"c":205,"mo":1460,"mh":1468,"ml":1456,"mc":1465},
{"t":269,"o":205,"h":205.8,"l":203.3,"c":204,"mo":1465,"mh":1470,"ml":1454,"mc":1458},
{"t":270,"o":204,"h":204.6,"l":200.3,"c":201,"mo":1458,"mh":1462,"ml":1444,"mc":1448},
{"t":271,"o":201,"h":202.8,"l":200.4,"c":202,"mo":1448,"mh":1452,"ml":1440,"mc":1445},
{"t":272,"o":202,"h":202.5,"l":198.3,"c":199,"mo":1445,"mh":1450,"ml":1428,"mc":1432},
{"t":273,"o":199,"h":200.9,"l":198.2,"c":200,"mo":1432,"mh":1440,"ml":1428,"mc":1435},
{"t":274,"o":200,"h":200.7,"l":196.3,"c":197,"mo":1435,"mh":1440,"ml":1420,"mc":1425},
{"t":275,"o":197,"h":198.8,"l":196.2,"c":198,"mo":1425,"mh":1432,"ml":1420,"mc":1428},
{"t":276,"o":198,"h":198.6,"l":194.4,"c":195,"mo":1428,"mh":1432,"ml":1405,"mc":1420},
{"t":277,"o":195,"h":196.8,"l":194.3,"c":196,"mo":1420,"mh":1434,"ml":1416,"mc":1430},
{"t":278,"o":196,"h":197.8,"l":195.2,"c":197,"mo":1430,"mh":1444,"ml":1426,"mc":1440},
{"t":279,"o":197,"h":197.6,"l":194.4,"c":195,"mo":1440,"mh":1446,"ml":1434,"mc":1438},
{"t":280,"o":195,"h":195.8,"l":193.3,"c":194,"mo":1438,"mh":1442,"ml":1400,"mc":1405},
{"t":281,"o":194,"h":195.7,"l":193.2,"c":195,"mo":1405,"mh":1410,"ml":1395,"mc":1400},
{"t":282,"o":195,"h":195.6,"l":192.4,"c":193,"mo":1400,"mh":1405,"ml":1390,"mc":1395},
{"t":283,"o":193,"h":194.8,"l":192.3,"c":194,"mo":1395,"mh":1398,"ml":1374,"mc":1378},
{"t":284,"o":194,"h":194.6,"l":191.2,"c":192,"mo":1378,"mh":1382,"ml":1362,"mc":1370},
{"t":285,"o":192,"h":193.8,"l":191.4,"c":193,"mo":1370,"mh":1380,"ml":1366,"mc":1375},
{"t":286,"o":193,"h":193.7,"l":190,"c":191,"mo":1375,"mh":1384,"ml":1370,"mc":1380},
{"t":287,"o":191,"h":199,"l":190.4,"c":195,"mo":1380,"mh":1396,"ml":1376,"mc":1392},
{"t":288,"o":195,"h":195.8,"l":193.3,"c":194,"mo":1392,"mh":1396,"ml":1384,"mc":1390},
{"t":289,"o":194,"h":198.8,"l":193.5,"c":198,"mo":1390,"mh":1402,"ml":1386,"mc":1398},
{"t":290,"o":198,"h":200.7,"l":197.4,"c":200,"mo":1398,"mh":1410,"ml":1394,"mc":1405},
{"t":291,"o":200,"h":200.8,"l":198.2,"c":199,"mo":1405,"mh":1412,"ml":1400,"mc":1408},
{"t":292,"o":199,"h":201.9,"l":198.4,"c":201,"mo":1408,"mh":1414,"ml":1402,"mc":1410},
{"t":293,"o":201,"h":201.7,"l":199.3,"c":200,"mo":1410,"mh":1414,"ml":1396,"mc":1400},
{"t":294,"o":200,"h":200.6,"l":197.2,"c":198,"mo":1400,"mh":1404,"ml":1384,"mc":1388},
{"t":295,"o":198,"h":199.8,"l":197.3,"c":199,"mo":1388,"mh":1392,"ml":1380,"mc":1385},
{"t":296,"o":199,"h":199.5,"l":194.2,"c":195,"mo":1385,"mh":1396,"ml":1382,"mc":1392},
{"t":297,"o":195,"h":197.8,"l":194.4,"c":197,"mo":1392,"mh":1404,"ml":1388,"mc":1400},
{"t":298,"o":197,"h":200.8,"l":196.3,"c":200,"mo":1400,"mh":1416,"ml":1396,"mc":1412},
{"t":299,"o":200,"h":203.6,"l":199.4,"c":203,"mo":1412,"mh":1424,"ml":1408,"mc":1420},
{"t":300,"o":203,"h":206.8,"l":202.4,"c":206,"mo":1420,"mh":1444,"ml":1416,"mc":1440},
{"t":301,"o":206,"h":207.2,"l":204.3,"c":205,"mo":1440,"mh":1450,"ml":1434,"mc":1445},
{"t":302,"o":205.39,"h":207,"l":204.06,"c":207,"mo":1445,"mh":1458,"ml":1440,"mc":1454.56}
  ]
 },
 "vconcat": [
  {
   "width": 978,
   "height": 214,
   "title": {"text": "Chg: +1,22%\u00a0\u00a0\u00a0O: 205,39\u00a0\u00a0\u00a0H: 207,00\u00a0\u00a0\u00a0L: 204,06\u00a0\u00a0\u00a0PrC: 204,50\u00a0\u00a0\u00a0Last: 207,00\u00a0\u00a0\u00a0Vol: 169,2 тыс.\u00a0\u00a0\u00a0Date: 11:12", "anchor": "start", "frame": "group", "fontSize": 9.5, "font": "Liberation Sans", "fontWeight": "bold", "color": "#000", "offset": 3, "dx": 5},
   "data": {"name": "d"},
   "layer": [
    {
     "mark": {"type": "rule", "color": "#000", "strokeWidth": 1},
     "encoding": {
      "x": {"field": "t", "type": "quantitative", "title": null, "scale": {"domain": [-0.625, 305], "nice": false, "zero": false},
       "axis": {"values": [15.94, 59.06, 100.94, 121.88, 143.13, 186.56, 232.19, 252.5, 275.94], "tickCount": 40, "labels": false, "ticks": false, "domain": true, "domainColor": "#8c8c8c", "domainWidth": 3, "grid": true,
        "gridColor": {"condition": {"test": "indexof([59.06,121.88,186.56,252.5], datum.value) >= 0", "value": "#7a7a7a"}, "value": "#c8c8c8"}}},
      "y": {"field": "l", "type": "quantitative", "title": null, "scale": {"domain": [126.5, 219.8], "nice": false, "zero": false},
       "axis": {"orient": "right", "values": [130, 145, 160, 175, 190, 205], "tickCount": 20, "format": "d", "labelExpr": "datum.value == 205 ? '' : datum.label", "labelOverlap": false, "domain": false, "tickSize": 4, "tickColor": "#333", "labelPadding": 2, "labelFontSize": 9.5, "labelColor": "#111", "grid": true, "gridColor": "#c8c8c8"}},
      "y2": {"field": "h"}
     }
    },
    {
     "mark": {"type": "bar", "orient": "vertical", "width": 2.4, "stroke": "#000", "strokeWidth": 0.8},
     "encoding": {
      "x": {"field": "t", "type": "quantitative", "scale": {"domain": [-0.625, 305], "nice": false, "zero": false}},
      "y": {"field": "o", "type": "quantitative", "scale": {"domain": [126.5, 219.8], "nice": false, "zero": false}},
      "y2": {"field": "c"},
      "fill": {"condition": {"test": "datum.c >= datum.o", "value": "#8f8f8f"}, "value": "#000"}
     }
    },
    {
     "data": {"name": "trend"},
     "transform": [{"filter": "datum.panel == 'top'"}],
     "mark": {"type": "rule", "color": "#0a0aff", "strokeWidth": 2.6},
     "encoding": {
      "x": {"field": "t1", "type": "quantitative", "scale": {"domain": [-0.625, 305], "nice": false, "zero": false}},
      "x2": {"field": "t2"},
      "y": {"field": "p1", "type": "quantitative", "scale": {"domain": [126.5, 219.8], "nice": false, "zero": false}},
      "y2": {"field": "p2"}
     }
    },
    {
     "data": {"name": "tags"},
     "transform": [{"filter": "datum.panel == 'top'"}],
     "mark": {"type": "rect", "fill": "#e4e4e4", "cornerRadius": 2},
     "encoding": {
      "x": {"datum": 0.6, "type": "quantitative", "scale": {"domain": [-0.625, 305], "nice": false, "zero": false}},
      "x2": {"datum": 36.9},
      "y": {"datum": 218.1, "type": "quantitative", "scale": {"domain": [126.5, 219.8], "nice": false, "zero": false}},
      "y2": {"datum": 212.0}
     }
    },
    {
     "data": {"name": "tags"},
     "transform": [{"filter": "datum.panel == 'top'"}],
     "mark": {"type": "text", "align": "left", "baseline": "middle", "fontSize": 9.5, "color": "#111", "font": "Liberation Sans"},
     "encoding": {
      "x": {"datum": 5, "type": "quantitative", "scale": {"domain": [-0.625, 305], "nice": false, "zero": false}},
      "y": {"datum": 215.1, "type": "quantitative", "scale": {"domain": [126.5, 219.8], "nice": false, "zero": false}},
      "text": {"field": "name"}
     }
    },
    {
     "data": {"name": "tags"},
     "transform": [{"filter": "datum.panel == 'top'"}],
     "mark": {"type": "text", "align": "center", "baseline": "middle", "fontSize": 9, "color": "#c0c0c0", "font": "DejaVu Sans"},
     "encoding": {
      "x": {"datum": 35.0, "type": "quantitative", "scale": {"domain": [-0.625, 305], "nice": false, "zero": false}},
      "y": {"datum": 215.1, "type": "quantitative", "scale": {"domain": [126.5, 219.8], "nice": false, "zero": false}},
      "text": {"field": "chev"}
     }
    },
    {
     "data": {"name": "tags"},
     "transform": [{"filter": "datum.panel == 'top'"}],
     "mark": {"type": "text", "align": "center", "baseline": "middle", "fontSize": 10, "color": "#222", "font": "DejaVu Sans"},
     "encoding": {
      "x": {"datum": 314, "type": "quantitative", "scale": {"domain": [-0.625, 305], "nice": false, "zero": false}},
      "y": {"datum": 216.4, "type": "quantitative", "scale": {"domain": [126.5, 219.8], "nice": false, "zero": false}},
      "text": {"field": "icons"}
     }
    },
    {
     "data": {"name": "tags"},
     "transform": [{"filter": "datum.panel == 'top'"}],
     "mark": {"type": "tick", "orient": "horizontal", "size": 45, "thickness": 12, "color": "#c8f7a2", "opacity": 1},
     "encoding": {
      "x": {"datum": 312.5, "type": "quantitative", "scale": {"domain": [-0.625, 305], "nice": false, "zero": false}},
      "y": {"field": "last", "type": "quantitative", "scale": {"domain": [126.5, 219.8], "nice": false, "zero": false}}
     }
    },
    {
     "data": {"name": "tags"},
     "transform": [{"filter": "datum.panel == 'top'"}],
     "mark": {"type": "text", "align": "left", "baseline": "middle", "fontSize": 10, "color": "#000", "font": "DejaVu Sans"},
     "encoding": {
      "x": {"datum": 306.9, "type": "quantitative", "scale": {"domain": [-0.625, 305], "nice": false, "zero": false}},
      "y": {"field": "last", "type": "quantitative", "scale": {"domain": [126.5, 219.8], "nice": false, "zero": false}},
      "text": {"field": "lastText"}
     }
    }
   ]
  },
  {
   "width": 978,
   "height": 200,
   "data": {"name": "d"},
   "layer": [
    {
     "mark": {"type": "rule", "color": "#000", "strokeWidth": 1},
     "encoding": {
      "x": {"field": "t", "type": "quantitative", "title": null, "scale": {"domain": [-0.625, 305], "nice": false, "zero": false},
       "axis": {"values": [15.94, 59.06, 100.94, 121.88, 143.13, 186.56, 232.19, 252.5, 275.94], "tickCount": 40, "labelOverlap": false, "labelFlush": false, "ticks": false, "domain": true, "domainColor": "#8c8c8c", "domainWidth": 1, "labelPadding": 3, "grid": true,
        "gridColor": {"condition": {"test": "indexof([59.06,121.88,186.56,252.5], datum.value) >= 0", "value": "#7a7a7a"}, "value": "#c8c8c8"},
        "labelExpr": "datum.value < 30 ? 'ноя' : datum.value < 80 ? 'янв 2012' : datum.value < 110 ? 'мар' : datum.value < 130 ? 'апр 2012' : datum.value < 160 ? 'май' : datum.value < 200 ? 'июл 2012' : datum.value < 240 ? 'сен' : datum.value < 260 ? 'окт 2012' : 'ноя'",
        "labelFontWeight": {"condition": {"test": "indexof([59.06,121.88,186.56,252.5], datum.value) >= 0", "value": "bold"}, "value": "normal"},
        "labelFontSize": {"condition": {"test": "indexof([59.06,121.88,186.56,252.5], datum.value) >= 0", "value": 10.5}, "value": 8},
        "labelColor": {"condition": {"test": "indexof([59.06,121.88,186.56,252.5], datum.value) >= 0", "value": "#111"}, "value": "#444"}}},
      "y": {"field": "ml", "type": "quantitative", "title": null, "scale": {"domain": [1224, 1660], "nice": false, "zero": false},
       "axis": {"orient": "right", "values": [1240, 1310, 1380, 1450, 1520, 1590], "tickCount": 20, "format": "d", "labelExpr": "datum.value == 1450 ? '' : datum.label", "labelOverlap": false, "domain": false, "tickSize": 4, "tickColor": "#333", "labelPadding": 2, "labelFontSize": 9.5, "labelColor": "#111", "grid": true, "gridColor": "#c8c8c8"}},
      "y2": {"field": "mh"}
     }
    },
    {
     "mark": {"type": "bar", "orient": "vertical", "width": 2.4, "stroke": "#000", "strokeWidth": 0.8},
     "encoding": {
      "x": {"field": "t", "type": "quantitative", "scale": {"domain": [-0.625, 305], "nice": false, "zero": false}},
      "y": {"field": "mo", "type": "quantitative", "scale": {"domain": [1224, 1660], "nice": false, "zero": false}},
      "y2": {"field": "mc"},
      "fill": {"condition": {"test": "datum.mc >= datum.mo", "value": "#8f8f8f"}, "value": "#000"}
     }
    },
    {
     "data": {"name": "trend"},
     "transform": [{"filter": "datum.panel == 'bottom'"}],
     "mark": {"type": "rule", "color": "#0a0aff", "strokeWidth": 2.6},
     "encoding": {
      "x": {"field": "t1", "type": "quantitative", "scale": {"domain": [-0.625, 305], "nice": false, "zero": false}},
      "x2": {"field": "t2"},
      "y": {"field": "p1", "type": "quantitative", "scale": {"domain": [1224, 1660], "nice": false, "zero": false}},
      "y2": {"field": "p2"}
     }
    },
    {
     "data": {"name": "tags"},
     "transform": [{"filter": "datum.panel == 'bottom'"}],
     "mark": {"type": "rect", "fill": "#e4e4e4", "cornerRadius": 2},
     "encoding": {
      "x": {"datum": 0.9, "type": "quantitative", "scale": {"domain": [-0.625, 305], "nice": false, "zero": false}},
      "x2": {"datum": 43.7},
      "y": {"datum": 1647, "type": "quantitative", "scale": {"domain": [1224, 1660], "nice": false, "zero": false}},
      "y2": {"datum": 1619}
     }
    },
    {
     "data": {"name": "tags"},
     "transform": [{"filter": "datum.panel == 'bottom'"}],
     "mark": {"type": "text", "align": "left", "baseline": "middle", "fontSize": 9.5, "color": "#111", "font": "Liberation Sans"},
     "encoding": {
      "x": {"datum": 1.9, "type": "quantitative", "scale": {"domain": [-0.625, 305], "nice": false, "zero": false}},
      "y": {"datum": 1633, "type": "quantitative", "scale": {"domain": [1224, 1660], "nice": false, "zero": false}},
      "text": {"field": "name"}
     }
    },
    {
     "data": {"name": "tags"},
     "transform": [{"filter": "datum.panel == 'bottom'"}],
     "mark": {"type": "text", "align": "center", "baseline": "middle", "fontSize": 9, "color": "#c0c0c0", "font": "DejaVu Sans"},
     "encoding": {
      "x": {"datum": 41.6, "type": "quantitative", "scale": {"domain": [-0.625, 305], "nice": false, "zero": false}},
      "y": {"datum": 1633, "type": "quantitative", "scale": {"domain": [1224, 1660], "nice": false, "zero": false}},
      "text": {"field": "chev"}
     }
    },
    {
     "data": {"name": "tags"},
     "transform": [{"filter": "datum.panel == 'bottom'"}],
     "mark": {"type": "text", "align": "center", "baseline": "middle", "fontSize": 10, "color": "#222", "font": "DejaVu Sans"},
     "encoding": {
      "x": {"datum": 314, "type": "quantitative", "scale": {"domain": [-0.625, 305], "nice": false, "zero": false}},
      "y": {"datum": 1640, "type": "quantitative", "scale": {"domain": [1224, 1660], "nice": false, "zero": false}},
      "text": {"field": "icons"}
     }
    },
    {
     "data": {"name": "tags"},
     "transform": [{"filter": "datum.panel == 'bottom'"}],
     "mark": {"type": "tick", "orient": "horizontal", "size": 45, "thickness": 12, "color": "#c8f7a2", "opacity": 1},
     "encoding": {
      "x": {"datum": 312.5, "type": "quantitative", "scale": {"domain": [-0.625, 305], "nice": false, "zero": false}},
      "y": {"field": "last", "type": "quantitative", "scale": {"domain": [1224, 1660], "nice": false, "zero": false}}
     }
    },
    {
     "data": {"name": "tags"},
     "transform": [{"filter": "datum.panel == 'bottom'"}],
     "mark": {"type": "text", "align": "left", "baseline": "middle", "fontSize": 10, "color": "#000", "font": "DejaVu Sans"},
     "encoding": {
      "x": {"datum": 306.9, "type": "quantitative", "scale": {"domain": [-0.625, 305], "nice": false, "zero": false}},
      "y": {"field": "last", "type": "quantitative", "scale": {"domain": [1224, 1660], "nice": false, "zero": false}},
      "text": {"field": "lastText"}
     }
    }
   ]
  }
 ]
}
